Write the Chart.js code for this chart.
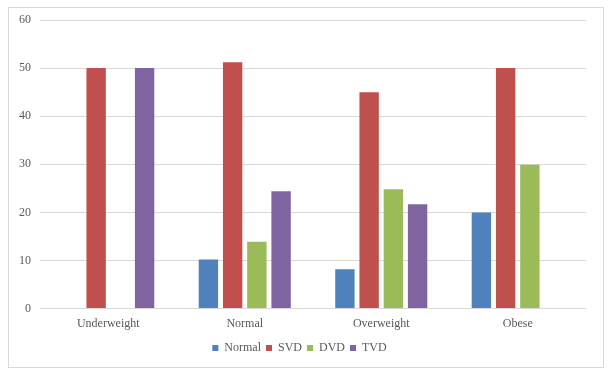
<!DOCTYPE html>
<html>
<head>
<meta charset="utf-8">
<script src="https://cdn.jsdelivr.net/npm/chart.js@4"></script>
<style>
  html, body { margin: 0; padding: 0; background: #fff; }
  #wrap { width: 610px; height: 372px; }
</style>
</head>
<body>
<div id="wrap"><canvas id="chart" width="610" height="372"></canvas></div>
<script>
// Data
const categories = ['Underweight', 'Normal', 'Overweight', 'Obese'];
const normalVals = [null, 10.2, 8.2, 20];
const svdVals = [50, 51.2, 45, 50];
const dvdVals = [null, 13.9, 24.8, 29.9];
const tvdVals = [50, 24.4, 21.7, null];
const yTicks = [0, 10, 20, 30, 40, 50, 60];

const FONT = "'Liberation Serif', 'Times New Roman', serif";

// outer frame like the office chart border
const frame = {
    id: 'frame',
    beforeDraw(chart) {
        const c = chart.ctx;
        c.save();
        c.fillStyle = '#fff';
        c.fillRect(0, 0, chart.width, chart.height);
        c.strokeStyle = '#d9d9d9';
        c.lineWidth = 1;
        c.strokeRect(8.5, 7.5, 595, 360);
        c.restore();
    }
};

new Chart(document.getElementById('chart').getContext('2d'), {
    type: 'bar',
    data: {
        labels: categories,
        datasets: [
            { label: 'Normal', data: normalVals, backgroundColor: '#4f81bd' },
            { label: 'SVD', data: svdVals, backgroundColor: '#c0504d' },
            { label: 'DVD', data: dvdVals, backgroundColor: '#9bbb59' },
            { label: 'TVD', data: tvdVals, backgroundColor: '#8064a2' }
        ]
    },
    options: {
        responsive: false,
        animation: false,
        layout: { padding: { left: 13, right: 24, top: 20, bottom: 8 } },
        datasets: { bar: { categoryPercentage: 0.71, barPercentage: 0.8 } },
        plugins: {
            legend: {
                position: 'bottom',
                labels: {
                    boxWidth: 6, boxHeight: 6, padding: 5,
                    color: '#595959',
                    font: { family: FONT, size: 12 }
                }
            },
            tooltip: { enabled: false }
        },
        scales: {
            x: {
                grid: { display: false },
                border: { display: false },
                afterFit: axis => { axis.height += 6; },
                ticks: { color: '#595959', font: { family: FONT, size: 12 }, padding: 0 }
            },
            y: {
                min: 0, max: 60,
                afterBuildTicks: axis => { axis.ticks = yTicks.map(v => ({ value: v })); },
                afterFit: axis => { axis.width = 27; },
                grid: { color: '#d9d9d9', drawTicks: false },
                border: { display: false },
                ticks: { color: '#595959', font: { family: FONT, size: 12 }, padding: 9 }
            }
        }
    },
    plugins: [frame]
});
</script>
</body>
</html>
